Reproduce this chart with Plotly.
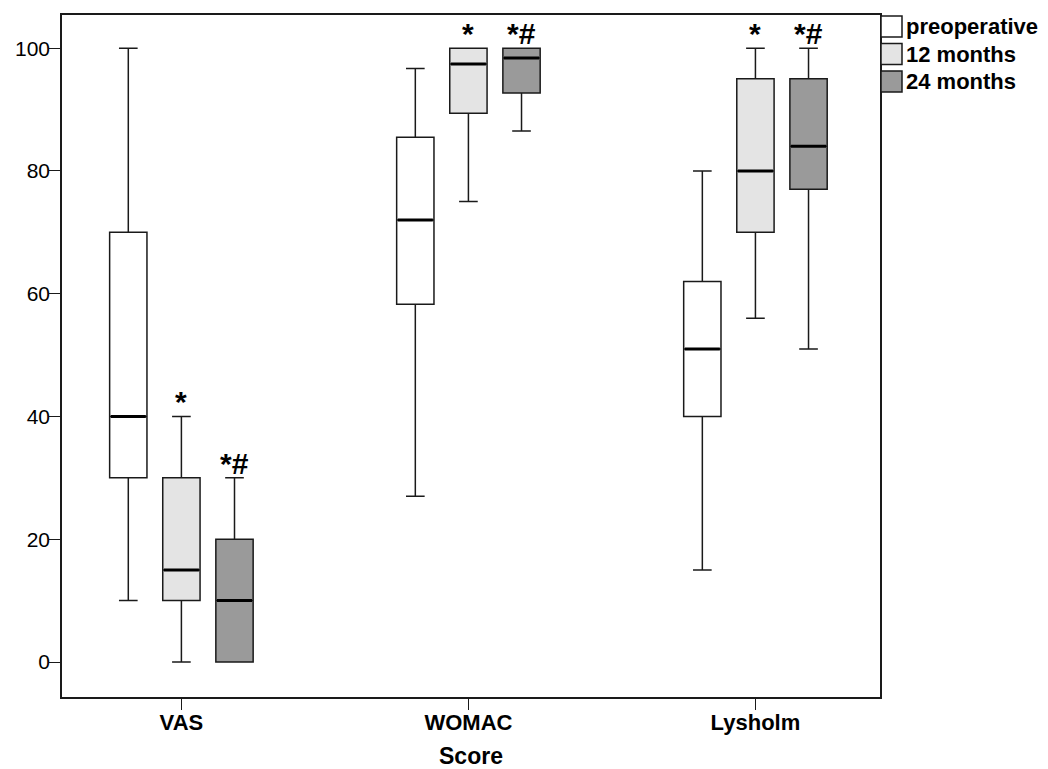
import plotly.graph_objects as go

categories = ["VAS", "WOMAC", "Lysholm"]
groups = ["preoperative", "12 months", "24 months"]

# per group: values for VAS, WOMAC, Lysholm
lower = {"preoperative": [10, 27, 15], "12 months": [0, 75, 56], "24 months": [0, 86.5, 51]}
q1 = {"preoperative": [30, 58.3, 40], "12 months": [10, 89.4, 70], "24 months": [0, 92.7, 77]}
median = {"preoperative": [40, 72, 51], "12 months": [15, 97.4, 80], "24 months": [10, 98.4, 84]}
q3 = {"preoperative": [70, 85.5, 62], "12 months": [30, 100, 95], "24 months": [20, 100, 95]}
upper = {"preoperative": [100, 96.7, 80], "12 months": [40, 100, 100], "24 months": [30, 100, 100]}
marks = {"preoperative": ["", "", ""], "12 months": ["*", "*", "*"], "24 months": ["*#", "*#", "*#"]}

fills = {"preoperative": "#ffffff", "12 months": "#e4e4e4", "24 months": "#9a9a9a"}
offsets = {"preoperative": -0.185, "12 months": 0.0, "24 months": 0.185}
bw = 0.13
LINE = "#1a1a1a"
FONT = "Liberation Sans, Arial"

# layout geometry (pixels)
W, H = 1032, 761
ML, MT, MB, MR = 54, 7, 72, 0
PLOT_W = 818
area_w = W - ML - MR
main_dom = PLOT_W / area_w
LEG_LEFT = 819  # px from plot-area left
leg_dom_x0 = LEG_LEFT / area_w
LEG_X, LEG_TX = 10.5, 25
LEG_Y0, LEG_DY = 11.5, 27.5

fig = go.Figure()
for g in groups:
    xs = [i + offsets[g] for i in range(len(categories))]
    fig.add_trace(go.Box(
        x=xs, q1=q1[g], median=median[g], q3=q3[g],
        lowerfence=lower[g], upperfence=upper[g],
        name=g, width=bw, whiskerwidth=0.5,
        fillcolor=fills[g], line=dict(color=LINE, width=1.5),
        boxpoints=False, hoverinfo="skip", showlegend=False,
    ))
# thicker median lines
for g in groups:
    mx, my = [], []
    for i in range(len(categories)):
        c = i + offsets[g]
        mx += [c - bw / 2 + 0.004, c + bw / 2 - 0.004, None]
        my += [median[g][i], median[g][i], None]
    fig.add_trace(go.Scatter(x=mx, y=my, mode="lines", line=dict(color="#000", width=3),
                             showlegend=False, hoverinfo="skip"))

# legend drawn as scatter traces on their own hidden axes
leg_y = [LEG_Y0 + k * LEG_DY for k in range(len(groups))]
fig.add_trace(go.Scatter(
    x=[LEG_X] * len(groups), y=leg_y, mode="markers",
    marker=dict(symbol="square", size=21, color=[fills[g] for g in groups],
                line=dict(color=LINE, width=1.5)),
    xaxis="x2", yaxis="y2", showlegend=False, hoverinfo="skip", cliponaxis=False,
))
fig.add_trace(go.Scatter(
    x=[LEG_TX] * len(groups), y=[v + 2 for v in leg_y], mode="text",
    text=["<b>%s</b>" % g for g in groups],
    textposition="middle right", textfont=dict(family=FONT, size=22, color="#000"),
    xaxis="x2", yaxis="y2", showlegend=False, hoverinfo="skip", cliponaxis=False,
))

for g in groups:
    for i in range(len(categories)):
        if marks[g][i]:
            fig.add_annotation(x=i + offsets[g], y=upper[g][i], text="<b>%s</b>" % marks[g][i],
                               showarrow=False, yanchor="bottom", yshift=-4,
                               font=dict(family=FONT, size=30, color="#000"))

axis_common = dict(showline=True, linecolor=LINE, linewidth=1.5, mirror=True,
                   ticks="outside", ticklen=11, tickcolor=LINE, showgrid=False,
                   zeroline=False)

fig.update_layout(
    width=W, height=H,
    margin=dict(l=ML, r=MR, t=MT, b=MB, autoexpand=False),
    paper_bgcolor="white", plot_bgcolor="white",
    font=dict(family=FONT, size=22, color="#000"),
    showlegend=False,
    xaxis=dict(domain=[0, main_dom], range=[-0.416, 2.434], tickvals=[0, 1, 2],
               ticktext=["<b>%s</b>" % c for c in categories],
               tickfont=dict(size=22), ticklabelstandoff=-6,
               title=dict(text="<b>Score</b>", standoff=18, font=dict(size=23)),
               **axis_common),
    yaxis=dict(range=[-5.7, 105.4], tickvals=[0, 20, 40, 60, 80, 100],
               tickfont=dict(size=21), ticklabelstandoff=-5, **axis_common),
    xaxis2=dict(domain=[leg_dom_x0, 1], range=[0, area_w - LEG_LEFT], visible=False,
                anchor="y2", fixedrange=True),
    yaxis2=dict(domain=[1 - 80 / 682, 1], range=[80, 0], visible=False,
                anchor="x2", fixedrange=True),
)

fig.write_html("out.html")
